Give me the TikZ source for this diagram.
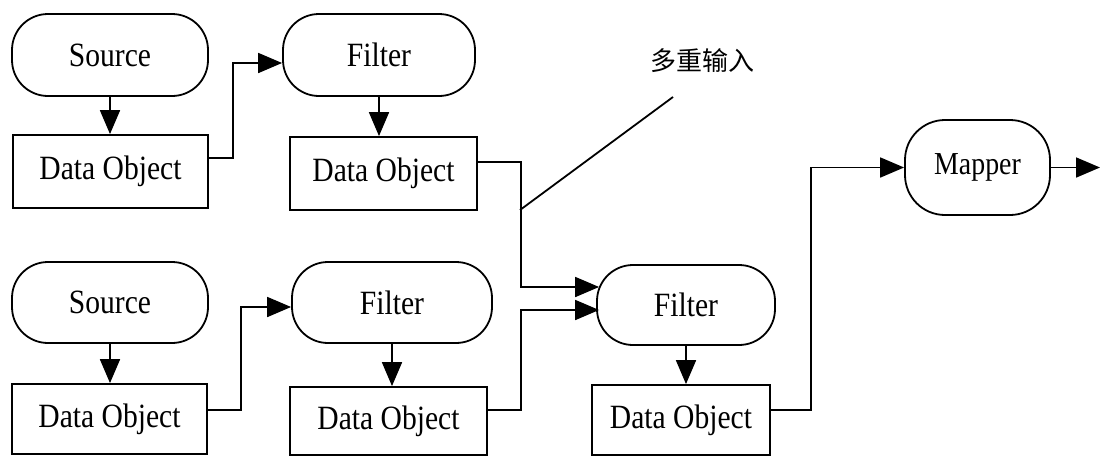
\documentclass[tikz,border=0pt]{standalone}
\usepackage{fontspec}
\setmainfont{Liberation Serif}[FakeStretch=0.87]
\newfontfamily\cjk{Noto Sans CJK SC}
\usetikzlibrary{arrows.meta}
\begin{document}
\begin{tikzpicture}[x=1pt,y=-1pt, line width=1.8pt,
  every node/.style={font=\fontsize{34}{40}\selectfont, inner sep=0pt},
  proc/.style={draw, rounded corners=36pt},
  dobj/.style={draw, rectangle},
  arr/.style={-{Triangle[length=24pt,width=20pt]}},
  lead/.style={line width=1.8pt}]
\useasboundingbox (0,0) rectangle (1100,461);

% top row
\node[proc, minimum width=196pt, minimum height=82pt] (src1) at (110,55) {Source};
\node[dobj, minimum width=195pt, minimum height=73pt] (do1) at (110.5,171.5) {Data Object};
\node[proc, minimum width=192pt, minimum height=82pt] (f1) at (379,55) {Filter};
\node[dobj, minimum width=187pt, minimum height=73pt] (do2) at (383.5,173.5) {Data Object};

% bottom row
\node[proc, minimum width=196pt, minimum height=81pt] (src2) at (110,302.5) {Source};
\node[dobj, minimum width=195pt, minimum height=70pt] (do3) at (109.5,419) {Data Object};
\node[proc, minimum width=200pt, minimum height=81pt] (f2) at (392,302.5) {Filter};
\node[dobj, minimum width=197pt, minimum height=68pt] (do4) at (388.5,421) {Data Object};

% merge
\node[proc, minimum width=178pt, minimum height=80pt] (f3) at (686,305) {Filter};
\node[dobj, minimum width=178pt, minimum height=70pt] (do5) at (681,420) {Data Object};
\node[proc, rounded corners=40pt, minimum width=145pt, minimum height=95pt,
      font=\fontsize{32}{38}\selectfont] (mapper) at (977.5,167.5) {Mapper};

\node[font=\cjk\fontsize{26}{30}\selectfont] (lbl) at (702,61) {多重输入};

% vertical arrows
\draw[arr] (src1.south) -- (src1.south |- do1.north);
\draw[arr] (f1.south) -- (f1.south |- do2.north);
\draw[arr] (src2.south) -- (src2.south |- do3.north);
\draw[arr] (f2.south) -- (f2.south |- do4.north);
\draw[arr] (f3.south) -- (f3.south |- do5.north);

% links
\draw[arr] ([yshift=13.5pt]do1.east) -- ++(24,0) |- ([yshift=-8pt]f1.west);
\draw[arr] ([yshift=9pt]do3.east) -- ++(33,0) |- ([yshift=-4.5pt]f2.west);
\draw[arr, shorten >=-3pt] ([yshift=11.5pt]do2.east) -- ++(43,0) |- ([yshift=18pt]f3.west);
\draw[arr, shorten >=-3pt] ([yshift=11pt]do4.east) -- ++(33,0) |- ([yshift=-5pt]f3.west);
\draw[arr] ([yshift=10pt]do5.east) -- ++(40,0) |- (mapper.west);
\coordinate (out) at (1100,167.5);
\draw[arr] (mapper.east) -- (out);

% leader line to label
\coordinate (m1) at (520,210);
\coordinate (m2) at (673,97);
\draw[lead] (m1) -- (m2);
\end{tikzpicture}
\end{document}
